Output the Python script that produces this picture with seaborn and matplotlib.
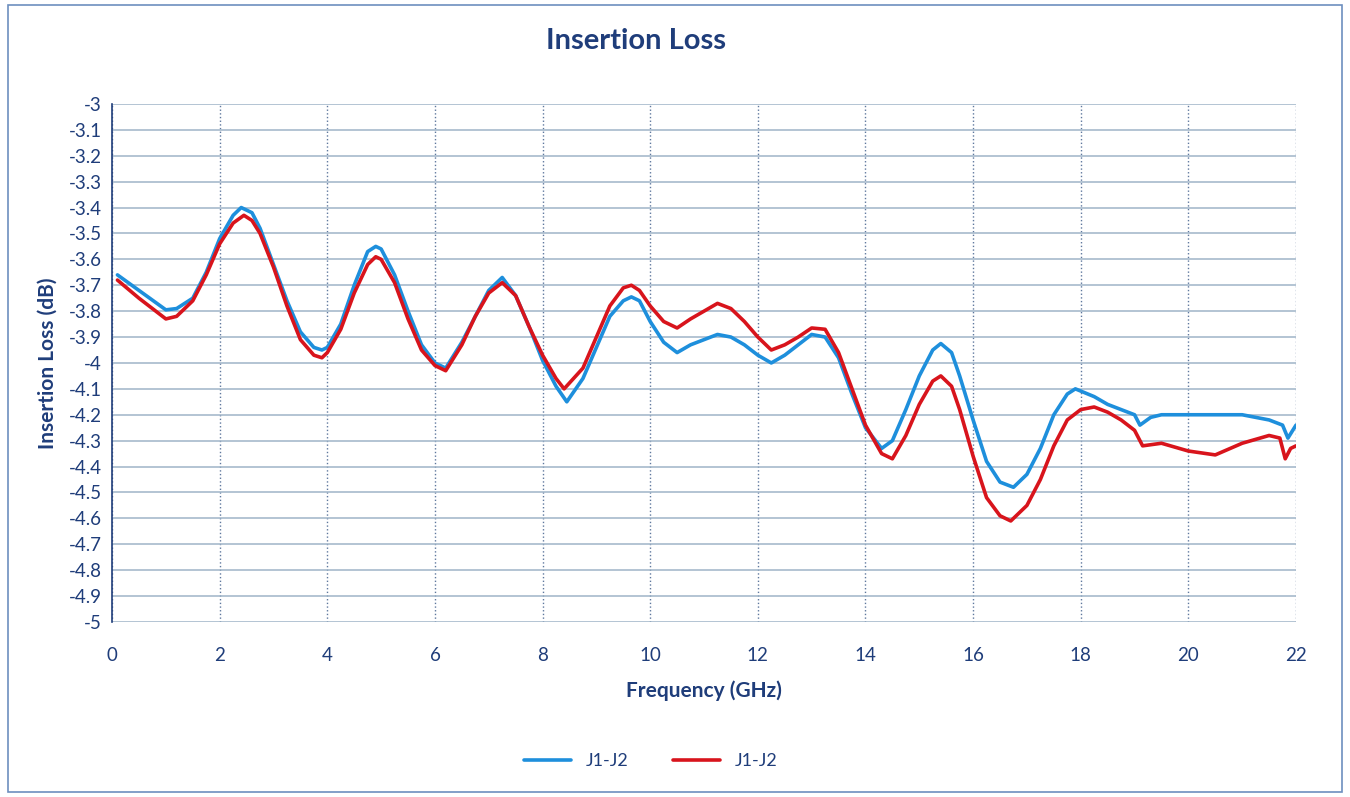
import numpy as np
import pandas as pd
import seaborn as sns
from matplotlib import pyplot as plt
from matplotlib.patches import Rectangle

# Readings from the plot (frequency in GHz, insertion loss in dB)
blue_freq = [0.1, 0.5, 1.0, 1.2, 1.5, 1.75, 2.0, 2.25, 2.4, 2.6, 2.75, 3.0, 3.25, 3.5, 3.75, 3.9,
             4.0, 4.25, 4.5, 4.75, 4.9, 5.0, 5.25, 5.5, 5.75, 6.0, 6.2, 6.5, 6.75, 7.0, 7.25, 7.5,
             7.75, 8.0, 8.25, 8.45, 8.75, 9.0, 9.25, 9.5, 9.65, 9.8, 10.0, 10.25, 10.5, 10.75, 11.0,
             11.25, 11.5, 11.75, 12.0, 12.25, 12.5, 12.75, 13.0, 13.25, 13.5, 13.75, 14.0, 14.3,
             14.5, 14.75, 15.0, 15.25, 15.4, 15.6, 15.75, 16.0, 16.25, 16.5, 16.75, 17.0, 17.25,
             17.5, 17.75, 17.9, 18.25, 18.5, 18.75, 19.0, 19.1, 19.3, 19.5, 20.0, 20.5, 21.0, 21.5,
             21.75, 21.85, 22.0]
blue_loss = [-3.66, -3.72, -3.795, -3.79, -3.75, -3.65, -3.52, -3.43, -3.40, -3.42, -3.48, -3.62,
             -3.76, -3.88, -3.94, -3.95, -3.94, -3.85, -3.70, -3.57, -3.55, -3.56, -3.66, -3.80,
             -3.93, -4.00, -4.02, -3.92, -3.82, -3.72, -3.67, -3.74, -3.86, -3.99, -4.09, -4.15,
             -4.06, -3.94, -3.82, -3.76, -3.745, -3.76, -3.84, -3.92, -3.96, -3.93, -3.91, -3.89,
             -3.90, -3.93, -3.97, -4.00, -3.97, -3.93, -3.89, -3.90, -3.98, -4.12, -4.25, -4.33,
             -4.30, -4.18, -4.05, -3.95, -3.925, -3.96, -4.05, -4.22, -4.38, -4.46, -4.48, -4.43,
             -4.33, -4.20, -4.12, -4.10, -4.13, -4.16, -4.18, -4.20, -4.24, -4.21, -4.20, -4.20,
             -4.20, -4.20, -4.22, -4.24, -4.29, -4.24]

red_freq = [0.1, 0.5, 1.0, 1.2, 1.5, 1.75, 2.0, 2.25, 2.45, 2.6, 2.75, 3.0, 3.25, 3.5, 3.75, 3.9,
            4.0, 4.25, 4.5, 4.75, 4.9, 5.0, 5.25, 5.5, 5.75, 6.0, 6.2, 6.5, 6.75, 7.0, 7.25, 7.5,
            7.75, 8.0, 8.25, 8.4, 8.75, 9.0, 9.25, 9.5, 9.65, 9.8, 10.0, 10.25, 10.5, 10.75, 11.0,
            11.25, 11.5, 11.75, 12.0, 12.25, 12.5, 12.75, 13.0, 13.25, 13.5, 13.75, 14.0, 14.3,
            14.5, 14.75, 15.0, 15.25, 15.4, 15.6, 15.75, 16.0, 16.25, 16.5, 16.7, 17.0, 17.25,
            17.5, 17.75, 18.0, 18.25, 18.5, 18.75, 19.0, 19.15, 19.5, 20.0, 20.5, 21.0, 21.5,
            21.7, 21.8, 21.9, 22.0]
red_loss = [-3.68, -3.75, -3.83, -3.82, -3.76, -3.66, -3.54, -3.46, -3.43, -3.45, -3.50, -3.63,
            -3.78, -3.91, -3.97, -3.98, -3.96, -3.87, -3.73, -3.62, -3.59, -3.60, -3.69, -3.83,
            -3.95, -4.01, -4.03, -3.93, -3.82, -3.73, -3.69, -3.74, -3.86, -3.97, -4.06, -4.10,
            -4.02, -3.90, -3.78, -3.71, -3.70, -3.72, -3.78, -3.84, -3.865, -3.83, -3.80, -3.77,
            -3.79, -3.84, -3.90, -3.95, -3.93, -3.90, -3.865, -3.87, -3.96, -4.10, -4.24, -4.35,
            -4.37, -4.28, -4.16, -4.07, -4.05, -4.09, -4.18, -4.36, -4.52, -4.59, -4.61, -4.55,
            -4.45, -4.32, -4.22, -4.18, -4.17, -4.19, -4.22, -4.26, -4.32, -4.31, -4.34, -4.355,
            -4.31, -4.28, -4.29, -4.37, -4.33, -4.32]

x_ticks = list(range(0, 23, 2))
y_ticks = [round(-3 - 0.1 * i, 1) for i in range(21)]
y_labels = ["%g" % v for v in y_ticks]

blue_df = pd.DataFrame({"freq": blue_freq, "loss": blue_loss})
red_df = pd.DataFrame({"freq": red_freq, "loss": red_loss})

sns.set_style("white")
plt.rcParams["font.family"] = ["Lato", "DejaVu Sans"]

navy = "#1f3d7a"
fig = plt.figure(figsize=(13.5, 7.97), dpi=100)
ax = fig.add_axes([0.083, 0.2196, 0.877, 0.65])

sns.lineplot(data=blue_df, x="freq", y="loss", ax=ax, color="#1e8fdc", linewidth=2.6, label="J1-J2")
sns.lineplot(data=red_df, x="freq", y="loss", ax=ax, color="#d8141c", linewidth=2.6, label="J1-J2")

ax.set_xlim(0, 22)
ax.set_ylim(-5, -3)
ax.set_xticks(x_ticks)
ax.set_yticks(y_ticks)
ax.set_yticklabels(y_labels)
ax.tick_params(axis="both", colors=navy, labelsize=13.5, length=4)
ax.tick_params(axis="x", length=0, pad=18)

ax.grid(axis="y", color="#9fb4c8", linewidth=1.1, linestyle="-")
ax.grid(axis="x", color="#5f789e", linewidth=1.0, linestyle=":")
ax.set_axisbelow(True)

for side in ["top", "right", "bottom"]:
    ax.spines[side].set_visible(False)
ax.spines["left"].set_color(navy)
ax.spines["left"].set_linewidth(1.2)

ax.set_xlabel("Frequency (GHz)", color=navy, fontsize=15, fontweight="bold", labelpad=12)
ax.set_ylabel("Insertion Loss (dB)", color=navy, fontsize=15, fontweight="bold", labelpad=8)
fig.text(0.471, 0.948, "Insertion Loss", ha="center", va="center", color=navy,
         fontsize=21, fontweight="bold")

ax.get_legend().remove()
handles, labels = ax.get_legend_handles_labels()
leg = fig.legend(handles, labels, loc="center", bbox_to_anchor=(0.482, 0.045), ncol=2,
                 frameon=False, fontsize=13, handlelength=2.6, columnspacing=2.5)
for t in leg.get_texts():
    t.set_color(navy)

fig.patches.append(Rectangle((0.006, 0.006), 0.988, 0.988, transform=fig.transFigure,
                             fill=False, edgecolor="#6d8fbf", linewidth=1.2))

fig.savefig("out.png", dpi=100)
